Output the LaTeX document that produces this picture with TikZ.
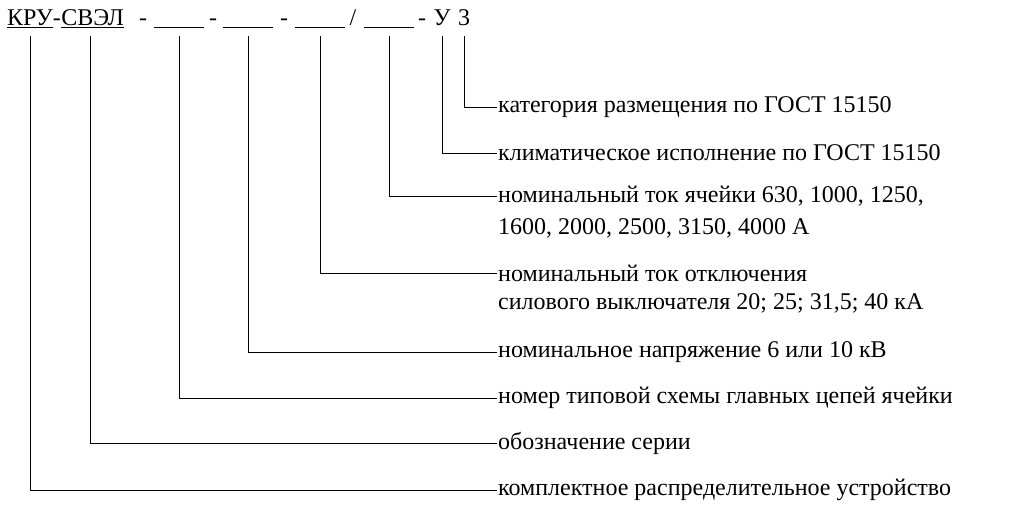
\documentclass[tikz,border=0pt]{standalone}
\usepackage{fontspec}
\setmainfont{Liberation Serif}
\usetikzlibrary{positioning}
\tikzset{>=latex}
\tikzset{
    part/.style={inner sep=0pt, anchor=base},
    desc/.style={inner sep=1pt, anchor=west},
    more/.style={inner sep=1pt, anchor=north west},
    lead/.style={line width=0.6pt},
}
\newcommand{\gap}{\underline{\hspace{50pt}}}

\begin{document}
\begin{tikzpicture}[x=1pt,y=-1pt,font=\rmfamily\fontsize{24}{28}\selectfont]
    \useasboundingbox (0,0) rectangle (1024,519);

    % header
    \node[part, anchor=base west] (kru)  at (7,26)  {\underline{КРУ}-};
    \node[part, anchor=base west] (svel) at (kru.base east) {\underline{СВЭЛ}};
    \node[part] at (143,26) {-};
    \node[part] (b1)   at (179,26) {\gap};
    \node[part] at (213,26) {-};
    \node[part] (b2)   at (248,26) {\gap};
    \node[part] at (284,26) {-};
    \node[part] (b3)   at (320,26) {\gap};
    \node[part] at (353,26) {/};
    \node[part] (b4)   at (389,26) {\gap};
    \node[part] at (422,26) {-};
    \node[part] (u)    at (442,26) {У};
    \node[part] (three) at (464,26) {3};

    % descriptions
    \node[desc] (cat)  at (497,107) {категория размещения по ГОСТ 15150};
    \node[desc] (clim) at (497,153) {климатическое исполнение по ГОСТ 15150};
    \node[desc] (cur)  at (497,196) {номинальный ток ячейки 630, 1000, 1250,};
    \node[more] (cur2) at ([yshift=-10pt]cur.south west) {1600, 2000, 2500, 3150, 4000 А};
    \node[desc] (brk)  at (497,273) {номинальный ток отключения};
    \node[more] (brk2) at ([yshift=-10pt]brk.south west) {силового выключателя 20; 25; 31,5; 40 кА};
    \node[desc] (volt) at (497,352) {номинальное напряжение 6 или 10 кВ};
    \node[desc] (num)  at (497,398) {номер типовой схемы главных цепей ячейки};
    \node[desc] (ser)  at (497,443) {обозначение серии};
    \node[desc] (dev)  at (497,490) {комплектное распределительное устройство};

    % leaders
    \draw[lead] (three.south |- 0,36) |- (cat.west);
    \draw[lead] (u.south |- 0,36) |- (clim.west);
    \draw[lead] (b4.south |- 0,36) |- (cur.west);
    \draw[lead] (b3.south |- 0,36) |- (brk.west);
    \draw[lead] (b2.south |- 0,36) |- (volt.west);
    \draw[lead] (b1.south |- 0,36) |- (num.west);
    \draw[lead] ([xshift=-2pt]svel.south |- 0,36) |- (ser.west);
    \draw[lead] ([xshift=-4pt]kru.south |- 0,36) |- (dev.west);

\end{tikzpicture}
\end{document}
